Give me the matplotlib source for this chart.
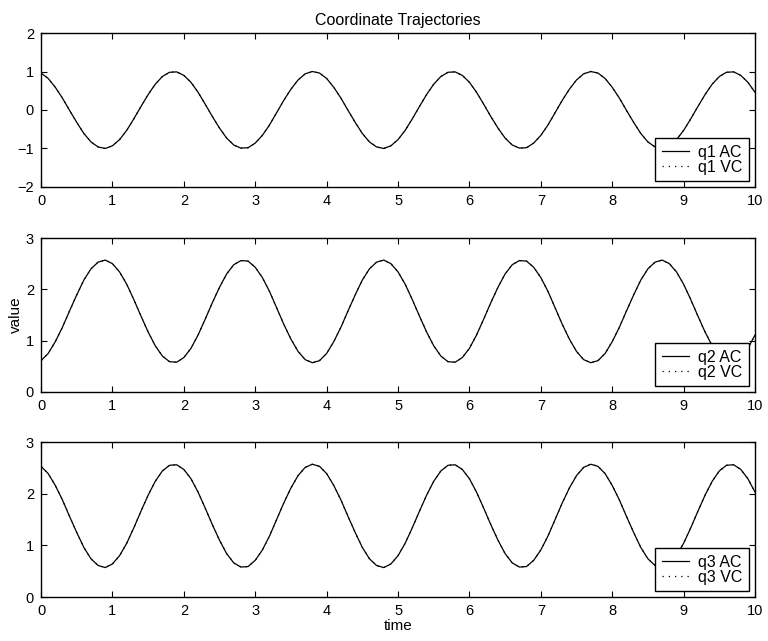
import matplotlib
matplotlib.use("Agg")
from matplotlib import pyplot as plt

plt.rcParams['font.family'] = ['Liberation Sans', 'DejaVu Sans']

# sample times, 0.1 s apart
time = [round(0.1 * k, 1) for k in range(101)]

q1 = [0.96, 0.82, 0.59, 0.31, -0.01, -0.32, -0.61, -0.83, -0.96, -1.00,
      -0.93, -0.77, -0.53, -0.23, 0.09, 0.40, 0.67, 0.87, 0.98, 0.99,
      0.90, 0.72, 0.46, 0.15, -0.17, -0.47, -0.73, -0.91, -0.99, -0.98,
      -0.86, -0.66, -0.39, -0.07, 0.25, 0.54, 0.78, 0.94, 1.00,
      0.96, 0.82, 0.59, 0.31, -0.01, -0.32, -0.61, -0.83, -0.96, -1.00,
      -0.93, -0.77, -0.53, -0.23, 0.09, 0.40, 0.67, 0.87, 0.98, 0.99,
      0.90, 0.72, 0.46, 0.15, -0.17, -0.47, -0.73, -0.91, -0.99, -0.98,
      -0.86, -0.66, -0.39, -0.07, 0.25, 0.54, 0.78, 0.94, 1.00,
      0.96, 0.82, 0.59, 0.31, -0.01, -0.32, -0.61, -0.83, -0.96, -1.00,
      -0.93, -0.77, -0.53, -0.23, 0.09, 0.40, 0.67, 0.87, 0.98, 0.99,
      0.90, 0.72, 0.46]

q2 = [0.61, 0.75, 0.98, 1.26, 1.58, 1.89, 2.18, 2.40, 2.53, 2.57,
      2.50, 2.34, 2.10, 1.80, 1.48, 1.17, 0.90, 0.70, 0.59, 0.58,
      0.67, 0.85, 1.11, 1.42, 1.74, 2.04, 2.30, 2.48, 2.56, 2.55,
      2.43, 2.23, 1.96, 1.64, 1.32, 1.03, 0.79, 0.63, 0.57,
      0.61, 0.75, 0.98, 1.26, 1.58, 1.89, 2.18, 2.40, 2.53, 2.57,
      2.50, 2.34, 2.10, 1.80, 1.48, 1.17, 0.90, 0.70, 0.59, 0.58,
      0.67, 0.85, 1.11, 1.42, 1.74, 2.04, 2.30, 2.48, 2.56, 2.55,
      2.43, 2.23, 1.96, 1.64, 1.32, 1.03, 0.79, 0.63, 0.57,
      0.61, 0.75, 0.98, 1.26, 1.58, 1.89, 2.18, 2.40, 2.53, 2.57,
      2.50, 2.34, 2.10, 1.80, 1.48, 1.17, 0.90, 0.70, 0.59, 0.58,
      0.67, 0.85, 1.11]

q3 = [2.53, 2.39, 2.16, 1.88, 1.56, 1.25, 0.96, 0.74, 0.61, 0.57,
      0.64, 0.80, 1.04, 1.34, 1.66, 1.97, 2.24, 2.44, 2.55, 2.56,
      2.47, 2.29, 2.03, 1.72, 1.40, 1.10, 0.84, 0.66, 0.58, 0.59,
      0.71, 0.91, 1.18, 1.50, 1.82, 2.11, 2.35, 2.51, 2.57,
      2.53, 2.39, 2.16, 1.88, 1.56, 1.25, 0.96, 0.74, 0.61, 0.57,
      0.64, 0.80, 1.04, 1.34, 1.66, 1.97, 2.24, 2.44, 2.55, 2.56,
      2.47, 2.29, 2.03, 1.72, 1.40, 1.10, 0.84, 0.66, 0.58, 0.59,
      0.71, 0.91, 1.18, 1.50, 1.82, 2.11, 2.35, 2.51, 2.57,
      2.53, 2.39, 2.16, 1.88, 1.56, 1.25, 0.96, 0.74, 0.61, 0.57,
      0.64, 0.80, 1.04, 1.34, 1.66, 1.97, 2.24, 2.44, 2.55, 2.56,
      2.47, 2.29, 2.03]

# VC trajectories coincide with the AC ones
q1_vc = list(q1)
q2_vc = list(q2)
q3_vc = list(q3)

names = ["q1", "q2", "q3"]
ylims = [(-2, 2), (0, 3), (0, 3)]
yticks = [[-2, -1, 0, 1, 2], [0, 1, 2, 3], [0, 1, 2, 3]]
xticks = list(range(11))

fig = plt.figure(figsize=(7.68, 6.41), dpi=100)
boxes = [[0.0534, 0.7083, 0.9297, 0.2402],
         [0.0534, 0.3885, 0.9297, 0.2402],
         [0.0534, 0.0686, 0.9297, 0.2418]]

series = [(q1, q1_vc), (q2, q2_vc), (q3, q3_vc)]
axes = []
for i in range(3):
    ax = fig.add_axes(boxes[i])
    ac, vc = series[i]
    ax.plot(time, ac, color='black', linewidth=0.9, label=names[i] + " AC")
    ax.plot(time, vc, color='black', linewidth=0.9, linestyle=(0, (1, 4)),
            label=names[i] + " VC")
    ax.set_xlim(0, 10)
    ax.set_ylim(*ylims[i])
    ax.set_xticks(xticks)
    ax.set_yticks(yticks[i])
    ax.tick_params(direction='in', top=True, right=True, length=4,
                   width=0.8, labelsize=10.5, pad=5)
    for s in ax.spines.values():
        s.set_linewidth(1.0)
    leg = ax.legend(loc='lower right', fontsize=11.5, handlelength=1.7,
                    fancybox=False, framealpha=1, edgecolor='black',
                    borderaxespad=0.35, borderpad=0.42, labelspacing=0.0,
                    handletextpad=0.6)
    leg.get_frame().set_linewidth(1.0)
    axes.append(ax)

axes[0].set_title("Coordinate Trajectories", fontsize=11.5, pad=6)
axes[1].set_ylabel("value", fontsize=11, labelpad=2)
axes[2].set_xlabel("time", fontsize=11, labelpad=1)

fig.savefig("out.png", dpi=100)
